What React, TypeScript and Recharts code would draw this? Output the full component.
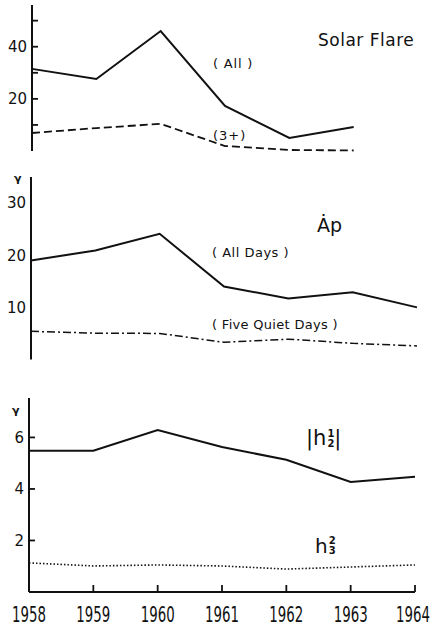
import { LineChart, Line, XAxis, YAxis } from 'recharts';

const years = [1958, 1959, 1960, 1961, 1962, 1963, 1964];
const flareAll = [31.5, 27.6, 46, 17.3, 5.0, 9.2, null];
const flare3 = [6.9, 8.8, 10.4, 1.9, 0.4, 0.2, null];
const apAll = [19.0, 20.9, 24.1, 14.0, 11.7, 12.9, 10.0];
const apQuiet = [5.4, 5.05, 5.0, 3.3, 3.9, 3.1, 2.6];
const h21 = [5.48, 5.48, 6.29, 5.63, 5.13, 4.27, 4.47];
const h32 = [1.13, 1.01, 1.05, 1.01, 0.89, 0.97, 1.05];

const flareTicks = [10, 20, 30, 40, 50];
const flareLabels = [20, 40];
const apTicks = [10, 20, 30];
const hTicks = [2, 4, 6];

const INK = '#111';
const FONT = "'DejaVu Sans', sans-serif";

const flareData = years.map((year, i) => ({ year, all: flareAll[i], plus3: flare3[i] }));
const apData = years.map((year, i) => ({ year, all: apAll[i], quiet: apQuiet[i] }));
const hData = years.map((year, i) => ({ year, h21: h21[i], h32: h32[i] }));

const makeYTick = (labels: number[], len: number) => (props: any) => {
  const { x, y, payload } = props;
  const v = payload.value;
  return (
    <g>
      {len > 0 && <line x1={x} x2={x + len} y1={y} y2={y} stroke={INK} strokeWidth={1.8} />}
      {labels.includes(v) && (
        <text x={x - 5} y={y} dy="0.36em" textAnchor="end" fontSize={15} fill={INK} fontFamily={FONT}>
          {v}
        </text>
      )}
    </g>
  );
};

// year labels are tall and narrow in the original: small font stretched up
const YearTick = (props: any) => {
  const { x, y, payload } = props;
  const last = payload.value === years[years.length - 1];
  const tx = last ? x - 2 : x;
  return (
    <g>
      <line x1={x} x2={x} y1={y} y2={y - 7} stroke={INK} strokeWidth={1.8} />
      <text
        transform={`translate(${tx} ${y + 30}) scale(1 1.4)`}
        x={0}
        y={0}
        textAnchor="middle"
        fontSize={15}
        fill={INK}
        fontFamily={FONT}
        textLength={34}
        lengthAdjust="spacingAndGlyphs"
      >
        {payload.value}
      </text>
    </g>
  );
};

const axisLine = { stroke: INK, strokeWidth: 2 };

const label = (left: number, top: number, size: number, extra: object = {}) => ({
  position: 'absolute' as const,
  left,
  top,
  fontSize: size,
  lineHeight: 1,
  fontFamily: FONT,
  color: INK,
  whiteSpace: 'nowrap' as const,
  ...extra,
});

const stack = {
  display: 'inline-flex',
  flexDirection: 'column' as const,
  fontSize: 10,
  lineHeight: 1,
  fontWeight: 'bold' as const,
  marginLeft: 1,
};

export default function App() {
  return (
    <div style={{ position: 'absolute', left: 0, top: 0, width: 434, height: 628, background: '#fff' }}>
      <div style={{ position: 'absolute', left: 0, top: 0 }}>
        <LineChart width={434} height={160} data={flareData} margin={{ top: 5, right: 16, bottom: 9, left: 0 }}>
          <XAxis dataKey="year" type="number" domain={[1958, 1964]} ticks={years} tick={false} tickLine={false} height={0} axisLine={axisLine} />
          <YAxis type="number" domain={[0, 56]} ticks={flareTicks} width={32} tickSize={0} tickMargin={0} tickLine={false} axisLine={axisLine} tick={makeYTick(flareLabels, 6)} />
          <Line dataKey="all" stroke={INK} strokeWidth={2} dot={false} isAnimationActive={false} />
          <Line dataKey="plus3" stroke={INK} strokeWidth={1.8} strokeDasharray="8 4" dot={false} isAnimationActive={false} />
        </LineChart>
      </div>
      <div style={{ position: 'absolute', left: 0, top: 160 }}>
        <LineChart width={434} height={210} data={apData} margin={{ top: 17, right: 17, bottom: 10.5, left: 0 }}>
          <XAxis dataKey="year" type="number" domain={[1958, 1964]} ticks={years} tick={false} tickLine={false} height={0} axisLine={axisLine} />
          <YAxis type="number" domain={[0, 35]} ticks={apTicks} width={31} tickSize={0} tickMargin={0} tickLine={false} axisLine={axisLine} tick={makeYTick(apTicks, 0)} />
          <Line dataKey="all" stroke={INK} strokeWidth={2} dot={false} isAnimationActive={false} />
          <Line dataKey="quiet" stroke={INK} strokeWidth={1.5} strokeDasharray="8 3 2 3" dot={false} isAnimationActive={false} />
        </LineChart>
      </div>
      <div style={{ position: 'absolute', left: 0, top: 370 }}>
        <LineChart width={434} height={258} data={hData} margin={{ top: 28, right: 19, bottom: 0, left: 0 }}>
          <XAxis dataKey="year" type="number" domain={[1958, 1964]} ticks={years} tickSize={0} tickMargin={0} tickLine={false} height={36} axisLine={axisLine} tick={YearTick} />
          <YAxis type="number" domain={[0, 7.53]} ticks={hTicks} width={29} tickSize={0} tickMargin={0} tickLine={false} axisLine={axisLine} tick={makeYTick(hTicks, 6)} />
          <Line dataKey="h21" stroke={INK} strokeWidth={2} dot={false} isAnimationActive={false} />
          <Line dataKey="h32" stroke={INK} strokeWidth={1.6} strokeDasharray="1.5 2" dot={false} isAnimationActive={false} />
        </LineChart>
      </div>

      <div style={label(318, 32, 17, { letterSpacing: 0.5 })}>Solar Flare</div>
      <div style={label(213, 57, 13, { letterSpacing: 0.8 })}>( All )</div>
      <div style={label(213, 129, 13, { letterSpacing: 1 })}>(3+)</div>

      <div style={label(14, 173, 11, { fontWeight: 'bold' })}>γ</div>
      <div style={label(317, 216, 19)}>Ȧp</div>
      <div style={label(212, 246, 13, { letterSpacing: 0.5 })}>( All Days )</div>
      <div style={label(212, 318, 13, { letterSpacing: 0.3 })}>( Five Quiet Days )</div>

      <div style={label(12, 405, 11, { fontWeight: 'bold' })}>γ</div>
      <div style={label(306, 428, 21, { display: 'flex', alignItems: 'center' })}>
        <span>|h</span>
        <span style={stack}>
          <span>1</span>
          <span>2</span>
        </span>
        <span>|</span>
      </div>
      <div style={label(315, 536, 20, { display: 'flex', alignItems: 'center' })}>
        <span>h</span>
        <span style={stack}>
          <span>2</span>
          <span>3</span>
        </span>
      </div>
    </div>
  );
}
